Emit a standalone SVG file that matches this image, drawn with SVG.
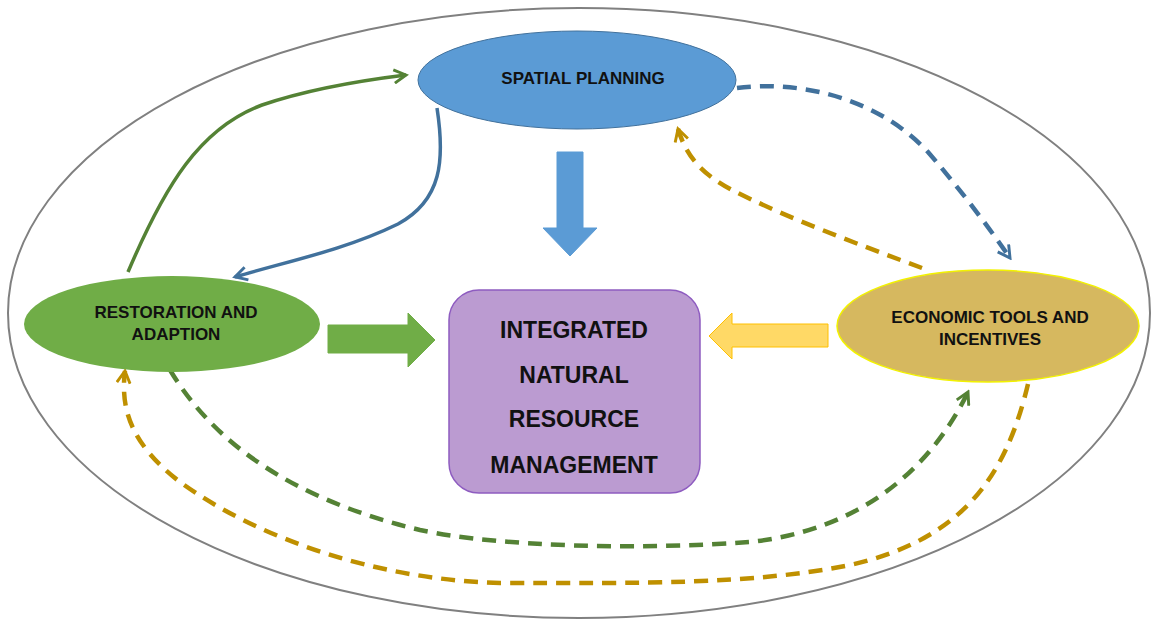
<svg xmlns="http://www.w3.org/2000/svg" width="1153" height="623" viewBox="0 0 1153 623">
<defs>
<style>
.lbl{font-family:"Liberation Sans",Arial,sans-serif;font-weight:bold;font-size:17px;fill:#111;text-anchor:middle}
.big{font-family:"Liberation Sans",Arial,sans-serif;font-weight:bold;font-size:23px;fill:#111;text-anchor:middle}
.con{fill:none;stroke-width:3.5;stroke-linecap:butt}
.dash{stroke-width:4.5;stroke-dasharray:14 9}
</style>
<marker id="aG" viewBox="0 0 12 12" refX="10" refY="6" markerWidth="16" markerHeight="16" markerUnits="userSpaceOnUse" orient="auto"><path d="M1,1 L10,6 L1,11" fill="none" stroke="#548235" stroke-width="2.2" stroke-dasharray="none"/></marker>
<marker id="aB" viewBox="0 0 12 12" refX="10" refY="6" markerWidth="16" markerHeight="16" markerUnits="userSpaceOnUse" orient="auto"><path d="M1,1 L10,6 L1,11" fill="none" stroke="#41719C" stroke-width="2.2" stroke-dasharray="none"/></marker>
<marker id="aY" viewBox="0 0 12 12" refX="10" refY="6" markerWidth="16" markerHeight="16" markerUnits="userSpaceOnUse" orient="auto"><path d="M1,1 L10,6 L1,11" fill="none" stroke="#BF9000" stroke-width="2.2" stroke-dasharray="none"/></marker>
</defs>
<rect width="1153" height="623" fill="#fff"/>
<ellipse id="boundary" cx="579" cy="313" rx="571" ry="305" fill="none" stroke="#808080" stroke-width="2"/>

<g id="connectors">
<path class="con" stroke="#548235" d="M128,272 C165,185 200,128 262,105 C312,88 365,80 406,75" marker-end="url(#aG)"/>
<path class="con" stroke="#41719C" d="M437,108 C445,160 442,200 398,224 C345,250 285,262 235,277" marker-end="url(#aB)"/>
<path class="con dash" stroke="#41719C" d="M737,88 C800,80 878,98 928,152 C965,195 992,232 1010,258" marker-end="url(#aB)"/>
<path class="con dash" stroke="#BF9000" d="M922,268 C860,245 785,217 732,190 C700,173 686,155 678,129" marker-end="url(#aY)"/>
<path class="con dash" stroke="#548235" d="M170,370 C215,445 295,500 420,530 C500,547 640,550 750,542 C860,530 930,470 968,392" marker-end="url(#aG)"/>
<path class="con dash" stroke="#BF9000" d="M1028,384 C1005,480 960,540 850,565 C750,585 640,583 500,583 C380,580 260,540 180,482 C132,445 120,410 125,371" marker-end="url(#aY)"/>
<polygon fill="#70AD47" stroke="#70AD47" stroke-width="1" points="328,325 408,325 408,313 435,340 408,367 408,353 328,353"/>
<polygon fill="#FFD966" stroke="#FFC000" stroke-width="1" points="828,324 732,324 732,313 709,336 732,359 732,347 828,347"/>
<polygon fill="#5B9BD5" stroke="#5B9BD5" stroke-width="1" points="557,152 583,152 583,228 597,228 570,256 543,228 557,228"/>
</g>

<g id="spatial-planning">
<ellipse cx="577" cy="80" rx="159" ry="49" fill="#5B9BD5" stroke="#41719C" stroke-width="1"/>
<text class="lbl" x="583" y="84">SPATIAL PLANNING</text>
</g>

<g id="restoration">
<ellipse cx="172" cy="324" rx="148" ry="48" fill="#70AD47"/>
<text class="lbl" x="176" y="318">RESTORATION AND</text>
<text class="lbl" x="176" y="340">ADAPTION</text>
</g>

<g id="economic">
<ellipse cx="988" cy="326" rx="151" ry="56" fill="#D6B85F" stroke="#F2F200" stroke-width="1.5"/>
<text class="lbl" x="990" y="323">ECONOMIC TOOLS AND</text>
<text class="lbl" x="990" y="345">INCENTIVES</text>
</g>

<g id="inrm">
<rect x="449" y="290" width="251" height="203" rx="30" ry="30" fill="#BB9BD1" stroke="#8E5CC0" stroke-width="1.5"/>
<text class="big" x="574" y="338">INTEGRATED</text>
<text class="big" x="574" y="383">NATURAL</text>
<text class="big" x="574" y="427">RESOURCE</text>
<text class="big" x="574" y="473">MANAGEMENT</text>
</g>
</svg>
